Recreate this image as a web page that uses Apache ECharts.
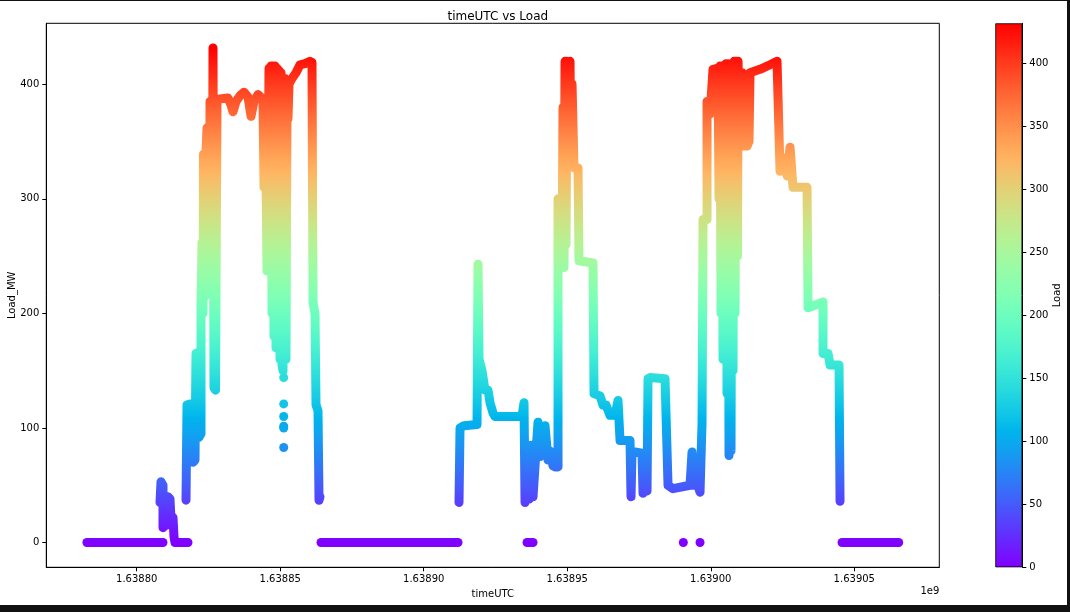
<!DOCTYPE html>
<html><head><meta charset="utf-8">
<script src="https://cdn.jsdelivr.net/npm/echarts@6/dist/echarts.min.js"></script>
<style>
html,body{margin:0;padding:0;background:#111;width:1070px;height:612px;overflow:hidden;}
#c{position:absolute;left:0;top:1px;width:1067px;height:604px;background:#fff;}
</style></head><body><div id="c"></div>
<script>
// ---- data (timeUTC in epoch seconds, Load_MW) ----
const zeroRunA = [[1638782650,0],[1638809163,0]];
const earlyBlip = [[1638808118,35],[1638808466,53],[1638809163,50],[1638809163,13],[1638809860,30],[1638810208,15],
  [1638810905,40],[1638811602,38],[1638811950,20],[1638812647,22],[1638812995,5],[1638813344,0],[1638817873,0]];
const dayOne = [[1638817176,37],[1638817524,120],[1638818570,121],[1638818918,95],[1638819615,70],[1638820312,72],
  [1638820660,165],[1638821357,166],[1638821705,92],[1638822402,95],[1638822402,205],[1638822751,262],[1638823099,200],
  [1638823273,339],[1638823796,330],[1638823796,215],[1638824144,340],[1638824493,362],[1638824841,240],[1638825015,360],
  [1638825364,230],[1638825538,385],[1638825886,250],[1638826235,385],[1638826409,300],[1638826583,431.6],[1638826932,135],
  [1638827280,200],[1638827454,133],[1638827802,300],[1638827977,385],[1638828325,387],
  [1638831809,388],[1638832854,382],[1638833551,376],[1638834596,385],[1638835990,390],[1638837383,393],[1638838777,389],
  [1638839822,372],[1638840868,385],[1638842261,391],[1638844003,387],[1638844352,310],[1638844700,385],[1638845048,320],
  [1638845397,237],[1638845745,300],[1638846093,414],[1638846442,250],[1638846790,416],[1638847139,200],[1638847487,416],
  [1638847835,180],[1638848184,416],[1638848532,170],[1638848881,414],[1638849229,173],[1638849577,412],[1638849926,160],
  [1638850274,410],[1638850623,155],[1638850971,150],[1638851319,300],[1638851668,405],[1638852016,160],[1638852365,380],
  [1638852713,370],[1638853061,400],[1638854107,405],[1638855500,410],[1638856894,417],[1638858636,418],[1638860378,420],
  [1638861075,419],[1638861423,210],[1638862120,200],[1638862469,120],[1638863165,115],[1638863514,37],[1638863862,40]];
const zeroRunB = [[1638864210,0],[1638911941,0]];
const zeroRunC = [[1638935981,0],[1638938071,0]];
const dayTwoThree = [[1638912289,35],[1638912638,100],[1638914031,102],[1638918561,103],[1638918909,243],[1638919258,160],
  [1638920300,150],[1638921348,133],[1638922393,133],[1638923090,122],[1638924135,113],[1638924832,110],[1638934239,110],
  [1638934935,122],[1638935284,35],[1638935981,45],[1638936677,38],[1638937374,85],[1638938071,40],[1638939116,80],
  [1638939813,105],[1638940510,75],[1638942252,102],[1638943297,72],[1638943994,80],[1638945039,67],[1638945736,66],
  [1638946781,66],[1638946781,300],[1638947826,300],[1638948175,250],[1638948523,380],[1638948871,240],[1638949220,420],
  [1638949568,260],[1638949917,420],[1638950265,330],[1638950962,420],[1638951311,330],[1638951659,400],[1638952356,327],
  [1638953749,327],[1638954098,246],[1638958975,244],[1638959323,130],[1638961414,128],
  [1638962459,120],[1638963504,120],[1638964898,111],[1638966640,111],[1638967685,124],[1638968382,89],[1638971866,89],
  [1638972214,40],[1638972563,79],[1638973608,79],[1638976047,78],[1638976395,43],[1638977092,46],[1638977789,45],
  [1638978137,143],[1638978834,144],[1638984060,143],[1638985105,50],[1638986847,47],[1638992770,50],[1638993467,79],
  [1638993815,50],[1638995209,52],[1638996254,44],[1638996951,104],[1638997299,282],[1638998693,282],[1638998693,385],
  [1638999738,374],[1639000783,413],[1639002525,414],[1639002873,300],[1639003222,416],[1639003570,200],[1639003919,416],
  [1639004267,160],[1639004615,416],[1639004964,160],[1639005312,418],[1639005661,130],[1639006009,418],[1639006357,76],
  [1639006706,300],[1639007054,80],[1639007403,418],[1639007751,150],[1639008099,420],[1639008448,200],[1639008796,420],
  [1639009145,420],[1639009319,250],[1639009493,420],[1639010190,346],[1639010887,410],[1639011583,346],[1639012280,405],
  [1639012629,346],[1639013325,350],[1639013674,410],[1639017158,413],[1639020642,417],[1639023081,420],[1639024126,324],
  [1639025171,336],[1639026565,320],[1639027610,345],[1639028655,310],[1639033533,310],[1639033881,205],[1639039107,210],
  [1639039107,165],[1639040849,165],[1639041546,155],[1639044682,155],[1639045030,36]];
const zeroRunD = [[1639045727,0],[1639065470,0]];
const strayPoints = [[1638851215,144],[1638851215,121],[1638851215,110],[1638851215,101.5],[1638851215,100],
  [1638851215,83],[1638990435,0],[1638996254,0]];
const xTicks = [1638800000,1638850000,1638900000,1638950000,1639000000,1639050000];
const yTicks = [0,100,200,300,400];
const cbTicks = [0,50,100,150,200,250,300,350,400];
const loadMin = 0, loadMax = 431.6;

// ---- matplotlib "rainbow" colormap ----
function rainbow(x){
  const c = v => Math.round(255*Math.max(0,Math.min(1,v)));
  return 'rgb('+c(Math.abs(2*x-0.5))+','+c(Math.sin(Math.PI*x))+','+c(Math.cos(Math.PI*x/2))+')';
}
const N = 40, cmap = [], stops = [];
for(let i=0;i<=N;i++){ cmap.push(rainbow(i/N)); stops.push({offset:1-i/N,color:rainbow(i/N)}); }

const chart = echarts.init(document.getElementById('c'));
const FONT = 'DejaVu Sans';
const lineSegs = [zeroRunA, earlyBlip, dayOne, zeroRunB, zeroRunC, dayTwoThree, zeroRunD];
const series = lineSegs.map(seg => ({
  type:'line', data:seg, xAxisIndex:0, yAxisIndex:0, showSymbol:false, symbol:'none',
  lineStyle:{width:9, cap:'round', join:'round', opacity:1}, animation:false, silent:true
}));
series.push({type:'scatter', data:strayPoints, xAxisIndex:0, yAxisIndex:0, symbolSize:9,
  itemStyle:{opacity:1}, animation:false, silent:true});
const colorIdx = series.map((s,i)=>i);
series.push({type:'bar', data:[loadMax], xAxisIndex:1, yAxisIndex:1, barWidth:'100%', animation:false, silent:true,
  itemStyle:{color:new echarts.graphic.LinearGradient(0,0,0,1,stops), borderColor:'#000', borderWidth:0.8}});

chart.setOption({
  backgroundColor:'#fff',
  animation:false,
  textStyle:{fontFamily:FONT},
  title:{text:'timeUTC vs Load', left:492.8, top:5, textAlign:'center',
    textStyle:{fontFamily:FONT, fontSize:12, fontWeight:'normal', color:'#000'}},
  grid:[
    {left:46.3, top:22.3, width:893, height:544, show:true, borderColor:'#000', borderWidth:1,
     backgroundColor:'transparent', containLabel:false, outerBoundsMode:'none'},
    {left:995.3, top:22.3, width:27, height:544, containLabel:false, outerBoundsMode:'none'}
  ],
  xAxis:[
    {type:'value', gridIndex:0, min:1638768506, max:1639079613, name:'timeUTC', nameLocation:'middle', nameGap:20,
     nameTextStyle:{fontFamily:FONT, fontSize:10, color:'#000'},
     axisLine:{show:true, onZero:false, lineStyle:{color:'#000', width:1}},
     axisTick:{show:true, length:4, customValues:xTicks, lineStyle:{color:'#000'}},
     axisLabel:{customValues:xTicks, margin:7, fontFamily:FONT, fontSize:10, color:'#000',
       formatter:v=>(v/1e9).toFixed(5)},
     splitLine:{show:false}},
    {type:'category', gridIndex:1, data:[''], show:false}
  ],
  yAxis:[
    {type:'value', gridIndex:0, min:-21.6, max:453.2, name:'Load_MW', nameLocation:'middle', nameGap:29, nameRotate:90,
     nameMoveOverlap:false,
     nameTextStyle:{fontFamily:FONT, fontSize:10, color:'#000'},
     axisLine:{show:true, onZero:false, lineStyle:{color:'#000', width:1}},
     axisTick:{show:true, length:4, customValues:yTicks, lineStyle:{color:'#000'}},
     axisLabel:{customValues:yTicks, margin:7, fontFamily:FONT, fontSize:10, color:'#000'},
     splitLine:{show:false}},
    {type:'value', gridIndex:1, min:loadMin, max:loadMax, position:'right', name:'Load', nameLocation:'middle',
     nameGap:29, nameRotate:90, nameTextStyle:{fontFamily:FONT, fontSize:10, color:'#000'},
     axisLine:{show:true, lineStyle:{color:'#000', width:1}},
     axisTick:{show:true, length:4, customValues:cbTicks, lineStyle:{color:'#000'}},
     axisLabel:{customValues:cbTicks, margin:7, fontFamily:FONT, fontSize:10, color:'#000'},
     splitLine:{show:false}}
  ],
  visualMap:{type:'continuous', show:false, min:loadMin, max:loadMax, dimension:1, seriesIndex:colorIdx,
    inRange:{color:cmap}},
  graphic:[{type:'text', right:1067-939.3, top:585, style:{text:'1e9', font:'10px "DejaVu Sans"', fill:'#000'}}],
  series:series
});
</script></body></html>
